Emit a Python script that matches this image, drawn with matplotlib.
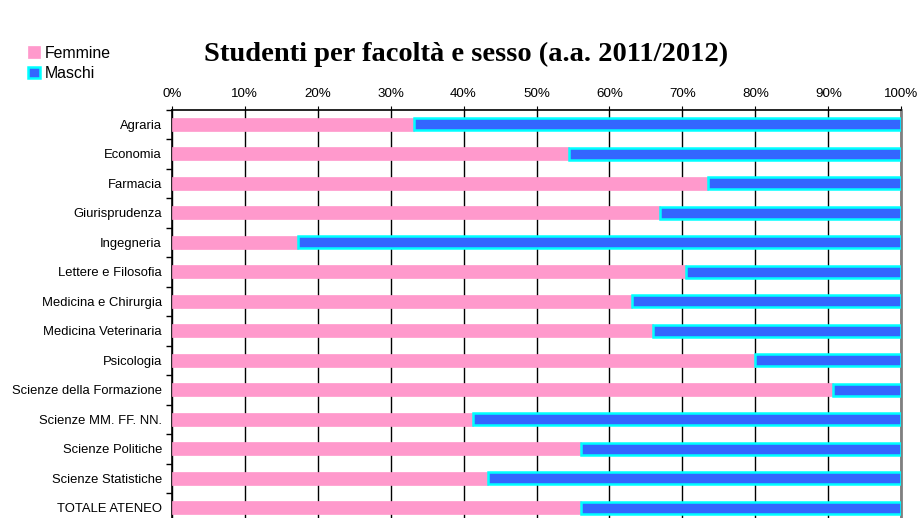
import matplotlib.pyplot as plt
from matplotlib.patches import Patch
from matplotlib.ticker import PercentFormatter, FixedLocator

plt.rcParams['font.family'] = ['Liberation Sans', 'DejaVu Sans']

facolta = ["Agraria", "Economia", "Farmacia", "Giurisprudenza", "Ingegneria",
           "Lettere e Filosofia", "Medicina e Chirurgia", "Medicina Veterinaria",
           "Psicologia", "Scienze della Formazione", "Scienze MM. FF. NN.",
           "Scienze Politiche", "Scienze Statistiche", "TOTALE ATENEO"]
femmine = [33.2, 54.5, 73.5, 66.9, 17.3, 70.5, 63.1, 66.0, 79.9, 90.6, 41.3, 56.1, 43.3, 56.1]
maschi = [100 - f for f in femmine]

pink = "#FF99CC"
blue = "#3366FF"
cyan = "#00FFFF"

fig = plt.figure(figsize=(9.19, 5.18), dpi=100)
ax = fig.add_axes([171.7 / 919, -0.0087, (901.3 - 171.7) / 919, 0.7973])

y = list(range(len(facolta)))
ax.barh(y, femmine, height=0.45, color=pink, edgecolor=pink, linewidth=0.5, zorder=3)
ax.barh(y, maschi, left=femmine, height=0.40, color=blue, edgecolor=cyan,
        linewidth=1.8, zorder=3)

ax.set_xlim(0, 100)
ax.set_ylim(len(facolta) - 0.5, -0.5)
ax.set_yticks(y)
ax.set_yticklabels(facolta, fontsize=9.4)
ax.yaxis.set_minor_locator(FixedLocator([i + 0.5 for i in range(-1, len(facolta))]))
ax.tick_params(axis='y', which='major', length=0, pad=7)
ax.tick_params(axis='y', which='minor', length=4, width=1, color='black')

ax.xaxis.tick_top()
ax.set_xticks(range(0, 101, 10))
ax.xaxis.set_major_formatter(PercentFormatter(decimals=0))
ax.tick_params(axis='x', length=3, pad=4, labelsize=9.6)
ax.grid(axis='x', color='black', linewidth=1, zorder=0)

ax.spines['top'].set_linewidth(1.2)
ax.spines['left'].set_linewidth(1.2)
ax.spines['right'].set_color('#808080')
ax.spines['right'].set_linewidth(2)
ax.spines['bottom'].set_visible(False)

fig.text(0.507, 0.894, "Studenti per facoltà e sesso (a.a. 2011/2012)",
         ha='center', va='center', fontsize=20.5, fontweight='bold',
         family='Liberation Serif')

handles = [Patch(facecolor=pink, edgecolor=pink, linewidth=0.5, label="Femmine"),
           Patch(facecolor=blue, edgecolor=cyan, linewidth=1.8, label="Maschi")]
fig.legend(handles=handles, loc='upper left', bbox_to_anchor=(0.031, 0.912),
           frameon=False, fontsize=11.4, handlelength=0.75, handleheight=0.75,
           handletextpad=0.3, labelspacing=0.35, borderaxespad=0, borderpad=0)

fig.savefig("out.png", dpi=100)
